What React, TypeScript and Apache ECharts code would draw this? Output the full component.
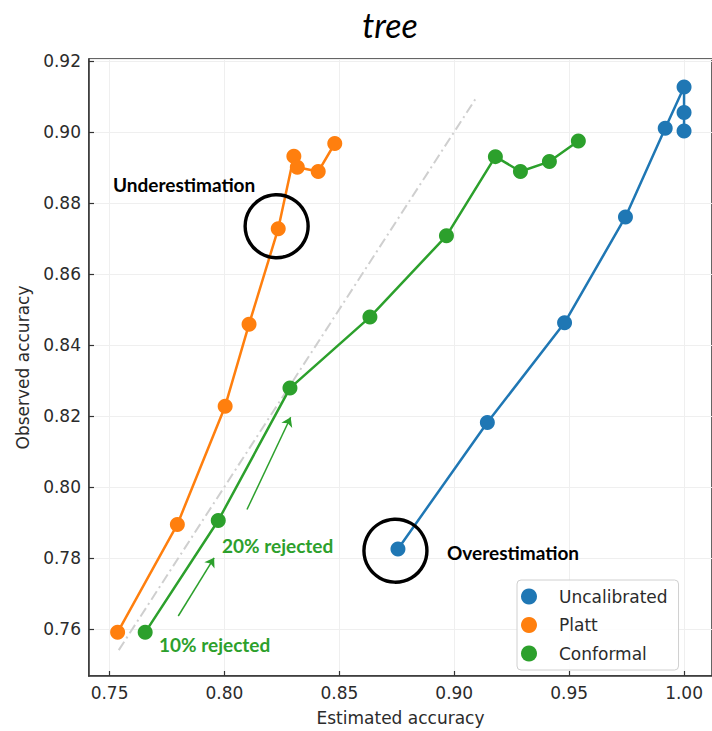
import React, { useEffect, useRef } from "react";
import * as echarts from "echarts";

// Reliability of accuracy estimates for the "tree" model
const uncalX = [0.8755, 0.9144, 0.948, 0.9745, 0.9918, 1.0, 1.0, 1.0];
const uncalY = [0.7825, 0.8181, 0.8462, 0.876, 0.901, 0.9126, 0.9054, 0.9002];

const plattX = [0.7535, 0.7795, 0.8003, 0.8107, 0.8234, 0.8302, 0.8317, 0.8408, 0.848];
const plattY = [0.759, 0.7894, 0.8227, 0.8458, 0.8727, 0.8931, 0.89, 0.8888, 0.8967];

const confX = [0.7655, 0.7973, 0.8285, 0.8633, 0.8966, 0.9179, 0.9288, 0.9414, 0.954];
const confY = [0.759, 0.7905, 0.8278, 0.8478, 0.8707, 0.893, 0.8888, 0.8916, 0.8974];

// perfect-calibration reference segment
const diagX = [0.754, 0.91];

// highlighted points (ring centres)
const ringX = [0.8227, 0.8744];
const ringY = [0.8734, 0.782];

// rejection arrows: [fromX, fromY, toX, toY]
const arrows = [
  [0.7799, 0.7636, 0.7955, 0.78],
  [0.8098, 0.7936, 0.8288, 0.8196],
];

const seriesNames = ["Uncalibrated", "Platt", "Conformal"];
const colors = ["#1f77b4", "#ff7f0e", "#2ca02c"];

const X_MIN = 0.74105;
const X_MAX = 1.01216;
const Y_MIN = 0.7467;
const Y_MAX = 0.9205;

const zip = (xs: number[], ys: number[]) => xs.map((x, i) => [x, ys[i]]);

const tickFont = {
  fontFamily: "DejaVu Sans",
  fontSize: 17,
  color: "#2b2b2b",
};

export default function App() {
  const ref = useRef<HTMLDivElement>(null);

  useEffect(() => {
    if (!ref.current) return;
    const chart = echarts.init(ref.current, null, { renderer: "svg" });

    const lineSeries = (name: string, xs: number[], ys: number[], color: string, z: number) => ({
      name,
      type: "line",
      data: zip(xs, ys),
      symbol: "circle",
      symbolSize: 15,
      z,
      itemStyle: { color, opacity: 1 },
      lineStyle: { color, width: 2.5 },
      emphasis: { disabled: true },
    });

    const note = (text: string, x: number, y: number, fill: string) => ({
      type: "text",
      x,
      y,
      z: 10,
      style: {
        text,
        fontFamily: "Lato",
        fontWeight: "bold",
        fontSize: 19,
        fill,
        textAlign: "left",
        textVerticalAlign: "middle",
      },
    });

    chart.setOption({
      animation: false,
      grid: {
        left: 89,
        top: 59,
        right: -1,
        bottom: 53,
        show: true,
        borderColor: "#333",
        borderWidth: 1.5,
        backgroundColor: "transparent",
      },
      xAxis: {
        type: "value",
        min: X_MIN,
        max: X_MAX,
        splitNumber: 5,
        minInterval: 0.05,
        maxInterval: 0.05,
        name: "Estimated accuracy",
        nameLocation: "middle",
        nameGap: 33,
        nameTextStyle: { ...tickFont },
        axisLine: { show: true, lineStyle: { color: "#333", width: 1.5 } },
        axisTick: { show: true, inside: true, length: 5, lineStyle: { color: "#333", width: 1.2 } },
        axisLabel: {
          ...tickFont,
          margin: 8,
          showMinLabel: false,
          showMaxLabel: false,
          formatter: (v: number) => v.toFixed(2),
        },
        splitLine: { show: true, lineStyle: { color: "#efefef", width: 1 } },
      },
      yAxis: {
        type: "value",
        min: Y_MIN,
        max: Y_MAX,
        splitNumber: 8,
        minInterval: 0.02,
        maxInterval: 0.02,
        name: "Observed accuracy",
        nameLocation: "middle",
        nameGap: 58,
        nameTextStyle: { ...tickFont },
        axisLine: { show: true, lineStyle: { color: "#333", width: 1.5 } },
        axisTick: { show: true, inside: true, length: 5, lineStyle: { color: "#333", width: 1.2 } },
        axisLabel: {
          ...tickFont,
          margin: 8,
          showMinLabel: false,
          showMaxLabel: false,
          formatter: (v: number) => v.toFixed(2),
        },
        splitLine: { show: true, lineStyle: { color: "#efefef", width: 1 } },
      },
      legend: {
        data: seriesNames,
        orient: "vertical",
        left: 517,
        top: 580,
        icon: "circle",
        itemWidth: 50,
        itemHeight: 16,
        itemGap: 11.5,
        padding: [8, 11, 8, 4],
        borderColor: "#d0d0d0",
        borderWidth: 1,
        borderRadius: 4,
        backgroundColor: "rgba(255,255,255,0.85)",
        selectedMode: false,
        textStyle: { ...tickFont, lineHeight: 16 },
        z: 10,
      },
      series: [
        {
          name: "ideal",
          type: "line",
          data: zip(diagX, diagX),
          symbol: "none",
          z: 1,
          lineStyle: { color: "#cfcfcf", width: 2, type: [10, 4, 2, 4] },
          emphasis: { disabled: true },
        },
        lineSeries(seriesNames[0], uncalX, uncalY, colors[0], 3),
        lineSeries(seriesNames[1], plattX, plattY, colors[1], 3),
        lineSeries(seriesNames[2], confX, confY, colors[2], 3),
        {
          name: "rings",
          type: "scatter",
          data: zip(ringX, ringY),
          symbol: "circle",
          symbolSize: 63,
          z: 5,
          itemStyle: { color: "rgba(0,0,0,0)", borderColor: "#000", borderWidth: 3.4, opacity: 1 },
          emphasis: { disabled: true },
        },
        {
          name: "arrows",
          type: "line",
          data: [],
          z: 4,
          markLine: {
            silent: true,
            symbol: ["none", "arrow"],
            symbolSize: 9,
            label: { show: false },
            lineStyle: { color: colors[2], width: 1.5, type: "solid", opacity: 1 },
            emphasis: { disabled: true },
            data: arrows.map(([x1, y1, x2, y2]) => [{ coord: [x1, y1] }, { coord: [x2, y2] }]),
          },
        },
      ],
      graphic: [
        {
          type: "text",
          x: 390,
          y: 24,
          style: {
            text: "tree",
            fontFamily: "Lato",
            fontStyle: "italic",
            fontSize: 34,
            fill: "#000",
            textAlign: "center",
            textVerticalAlign: "middle",
          },
        },
        note("Underestimation", 113, 184, "#000"),
        note("Overestimation", 447, 552, "#000"),
        note("20% rejected", 222, 545, colors[2]),
        note("10% rejected", 159, 644, colors[2]),
      ],
    });

    return () => chart.dispose();
  }, []);

  return (
    <div
      ref={ref}
      style={{ position: "absolute", left: 0, top: 0, width: 712, height: 731, background: "#fff" }}
    />
  );
}
